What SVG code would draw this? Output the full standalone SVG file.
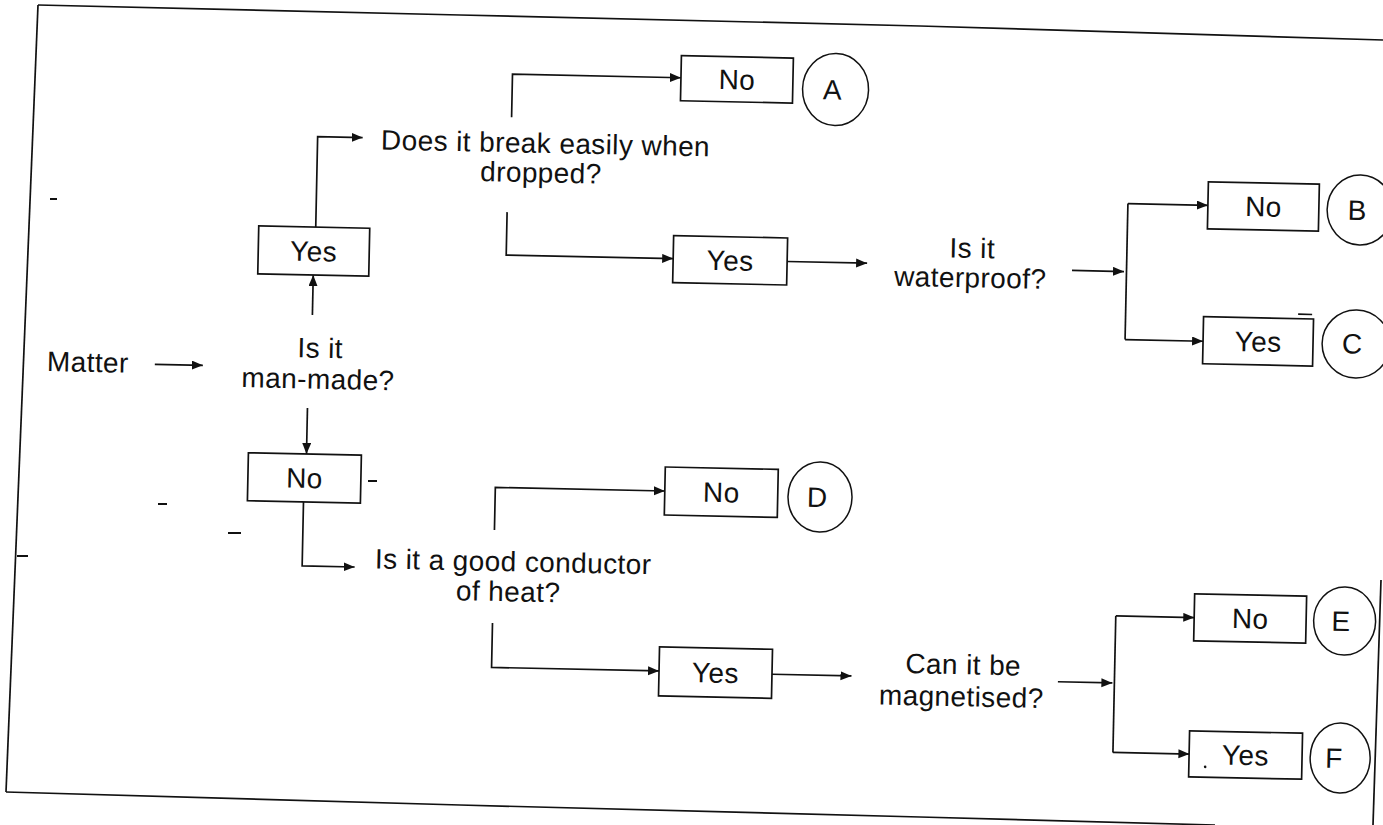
<svg xmlns="http://www.w3.org/2000/svg" width="1383" height="825" viewBox="0 0 1383 825">
<defs>
<marker id="ah" markerUnits="userSpaceOnUse" markerWidth="12" markerHeight="10" refX="11" refY="4.5" orient="auto">
<path d="M0,0 L11,4.5 L0,9 z" fill="#111"/>
</marker>
<style>
.ln{fill:none;stroke:#111;stroke-width:1.7}
.cn{fill:none;stroke:#111;stroke-width:1.7;marker-end:url(#ah)}
.bx{fill:#fff;stroke:#111;stroke-width:1.7}
.cir{fill:#fff;stroke:#111;stroke-width:1.5}
.t{font-family:"Liberation Sans",Arial,sans-serif;font-size:28px;fill:#111;text-anchor:middle;letter-spacing:0.4px}
.lt{font-family:"Liberation Sans",Arial,sans-serif;font-size:28px;fill:#111;text-anchor:middle}
.mk{stroke:#111;stroke-width:2}
</style>
</defs>
<rect width="1383" height="825" fill="#fff"/>
<g id="frame">
<path class="ln" d="M38 5 L460 15 L920 26 L1383 40"/>
<path class="ln" d="M38 5 L6 792"/>
<path class="ln" d="M6 792 L460 805 L920 817 L1215 825"/>
<path class="ln" d="M1381 580 L1373 825"/>
<path class="mk" d="M17 556 H28 M50 199 H57 M158 504 H167 M228 533 H241 M368 481 H377"/>
</g>
<g id="content" transform="rotate(1.2 690 410)">
<g id="connectors">
<path class="cn" d="M154 375.5 H202"/>
<path class="cn" d="M310.5 323 V283"/>
<path class="cn" d="M312 235 V144.5 H357"/>
<path class="cn" d="M505.5 121 V78 H674"/>
<path class="cn" d="M503 216 V259 H670"/>
<path class="cn" d="M784 259.5 H864"/>
<path class="cn" d="M1069 262.5 H1121"/>
<path class="ln" d="M1123.5 194.5 V330.5"/>
<path class="cn" d="M1123.5 194.5 H1203.5"/>
<path class="cn" d="M1123.5 330.5 H1201.5"/>
<path class="cn" d="M307.5 416 V462"/>
<path class="cn" d="M305.5 510 V574 H358"/>
<path class="cn" d="M497 534 V491.5 H666.5"/>
<path class="cn" d="M497 627 V671.5 H664.5"/>
<path class="cn" d="M777.5 672.5 H857"/>
<path class="cn" d="M1063.5 674 H1118"/>
<path class="ln" d="M1120 607 V743.5"/>
<path class="cn" d="M1120 607 H1198.5"/>
<path class="cn" d="M1120 743.5 H1196.5"/>
</g>
<g id="matter"><text class="t" x="87" y="384.5">Matter</text></g>
<g id="q-manmade"><text class="t" x="319" y="365.5">Is it</text><text class="t" x="317.5" y="396.5">man-made?</text></g>
<g id="yes-manmade"><rect class="bx" x="255" y="235" width="111" height="48"/><text class="t" x="310.5" y="269">Yes</text></g>
<g id="q-break"><text class="t" x="540" y="156">Does it break easily when</text><text class="t" x="536" y="185.5">dropped?</text></g>
<g id="no-break"><rect class="bx" x="674" y="56" width="112" height="45"/><text class="t" x="730" y="88.5">No</text></g>
<g id="res-a"><ellipse class="cir" cx="828.8" cy="86.5" rx="33" ry="36"/><text class="lt" x="825.5" y="96.5">A</text></g>
<g id="yes-break"><rect class="bx" x="670" y="236" width="114" height="47"/><text class="t" x="727" y="269.5">Yes</text></g>
<g id="q-water"><text class="t" x="968.8" y="252">Is it</text><text class="t" x="967.4" y="281.5">waterproof?</text></g>
<g id="no-water"><rect class="bx" x="1203.5" y="171" width="111" height="47"/><text class="t" x="1259" y="204.5">No</text></g>
<g id="res-b"><ellipse class="cir" cx="1355.8" cy="195.9" rx="33" ry="35"/><text class="lt" x="1352.8" y="206">B</text></g>
<g id="yes-water"><rect class="bx" x="1201.5" y="306" width="110" height="47"/><text class="t" x="1256.6" y="339.5">Yes</text><path class="ln" d="M1296 301.5 H1310"/></g>
<g id="res-c"><ellipse class="cir" cx="1354.6" cy="330" rx="34" ry="34"/><text class="lt" x="1350.6" y="339.5">C</text></g>
<g id="no-manmade"><rect class="bx" x="249.4" y="462" width="113" height="48"/><text class="t" x="306" y="496">No</text></g>
<g id="q-conductor"><text class="t" x="516.4" y="575">Is it a good conductor</text><text class="t" x="512" y="605">of heat?</text></g>
<g id="no-conductor"><rect class="bx" x="666.5" y="467.5" width="113" height="48"/><text class="t" x="723" y="501.5">No</text></g>
<g id="res-d"><ellipse class="cir" cx="821.8" cy="494.3" rx="32" ry="35"/><text class="lt" x="819" y="504.3">D</text></g>
<g id="yes-conductor"><rect class="bx" x="664.5" y="647.5" width="113" height="49"/><text class="t" x="721" y="682">Yes</text></g>
<g id="q-magnet"><text class="t" x="968.5" y="668.5">Can it be</text><text class="t" x="967.2" y="700.5">magnetised?</text></g>
<g id="no-magnet"><rect class="bx" x="1198.4" y="583.2" width="112" height="47"/><text class="t" x="1254.4" y="616.7">No</text></g>
<g id="res-e"><ellipse class="cir" cx="1348.9" cy="607.3" rx="31" ry="34"/><text class="lt" x="1345" y="617.3">E</text></g>
<g id="yes-magnet"><rect class="bx" x="1196.2" y="720.3" width="113" height="46"/><text class="t" x="1252.5" y="753.3">Yes</text><circle cx="1212.5" cy="756" r="1.3" fill="#111"/></g>
<g id="res-f"><ellipse class="cir" cx="1347.3" cy="744.3" rx="30" ry="35"/><text class="lt" x="1341" y="754.3">F</text></g>
</g>
</svg>
